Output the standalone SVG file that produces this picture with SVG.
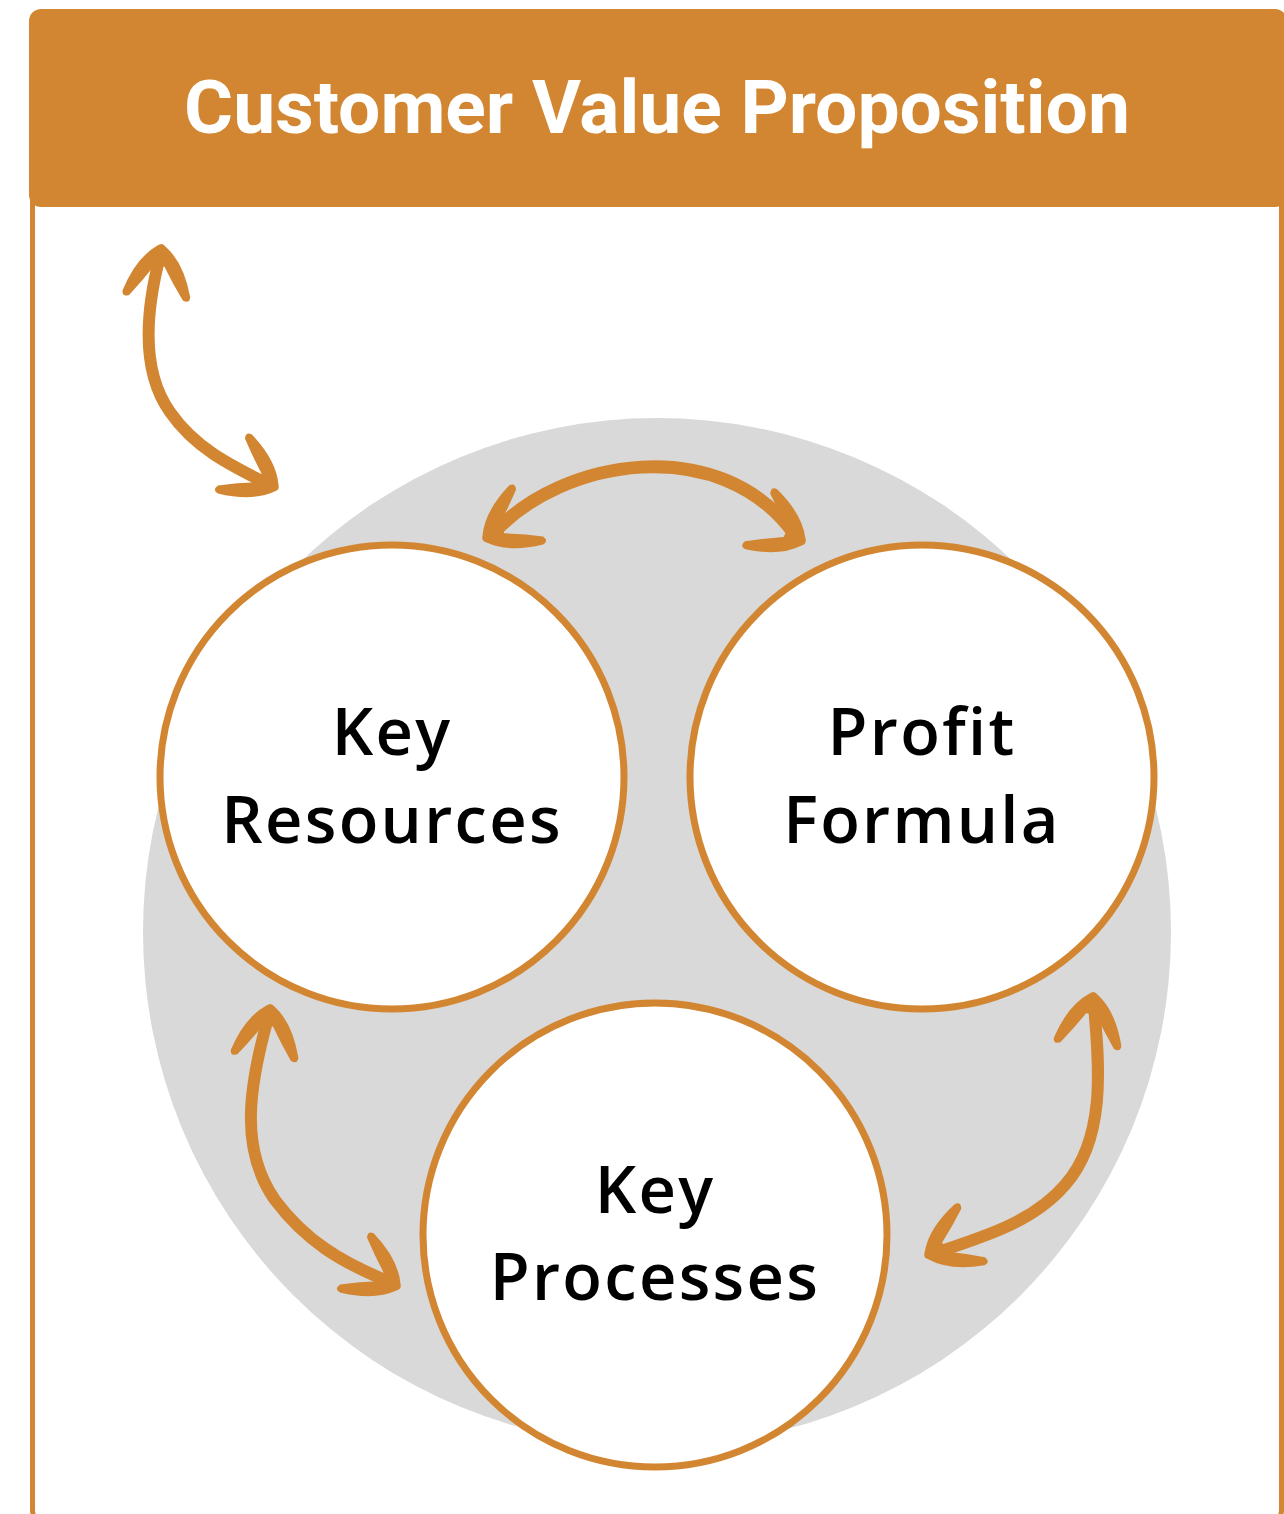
<svg xmlns="http://www.w3.org/2000/svg" width="1284" height="1514" viewBox="0 0 1284 1514">
  <style>
    .frame { fill: #ffffff; stroke: #D38632; stroke-width: 5; }
    .header { fill: #D38632; }
    .title { font-family: Roboto, "Liberation Sans", sans-serif; font-weight: 700; font-size: 75px; fill: #ffffff; text-anchor: middle; }
    .backdrop { fill: #D9D9D9; }
    .node circle { fill: #ffffff; stroke: #D38632; stroke-width: 7; }
    .node text { font-family: "Open Sans", "Noto Sans", sans-serif; font-weight: 600; font-size: 65px; fill: #000000; text-anchor: middle; letter-spacing: 2.3px; }
    .shaft { fill: none; stroke: #D38632; stroke-width: 12; stroke-linecap: round; }
    .head { fill: #D38632; }
  </style>
  <defs>
    <!-- hand-drawn arrowhead, tip at origin, pointing along +x -->
    <path id="head" d="M 4,-4 Q -10,-24 -44,-34 Q -51,-34 -48,-27 Q -32,-15 -16,-5 L -16,5 Q -32,15 -48,27 Q -51,34 -44,34 Q -10,24 4,4 Q 8,0 4,-4 Z"/>
  </defs>

  <!-- outer panel and title bar -->
  <rect class="frame" x="32.5" y="12" width="1249" height="1512" rx="14"/>
  <rect class="header" x="29" y="9" width="1258" height="198" rx="12"/>
  <text class="title" x="657" y="133">Customer Value Proposition</text>

  <!-- grey backdrop disc -->
  <circle class="backdrop" cx="657" cy="932" r="514"/>

  <g id="connectors">
    <!-- title bar to the circles -->
    <path class="shaft" d="M160,256 C146,310 140,370 170,412 C195,448 230,465 268,484"/>
    <use href="#head" class="head" transform="translate(161,250) rotate(-84)"/>
    <use href="#head" class="head" transform="translate(273,486) rotate(30)"/>

    <!-- Key Resources to Profit Formula -->
    <path class="shaft" style="stroke-width:13" d="M495,532 C560,460 720,430 795,535"/>
    <use href="#head" class="head" transform="translate(488,537) rotate(150)"/>
    <use href="#head" class="head" transform="translate(800,540) rotate(28)"/>

    <!-- Key Resources to Key Processes -->
    <path class="shaft" d="M268,1018 C248,1090 240,1150 275,1200 C305,1240 340,1262 390,1282"/>
    <use href="#head" class="head" transform="translate(270,1010) rotate(-83)"/>
    <use href="#head" class="head" transform="translate(395,1285) rotate(30)"/>

    <!-- Profit Formula to Key Processes -->
    <path class="shaft" d="M1094,1006 C1100,1070 1105,1140 1065,1185 C1035,1220 990,1235 935,1253"/>
    <use href="#head" class="head" transform="translate(1093,998) rotate(-83)"/>
    <use href="#head" class="head" transform="translate(930,1254) rotate(154)"/>
  </g>

  <g id="key-resources" class="node">
    <circle cx="392" cy="777" r="232"/>
    <text x="392" y="755">Key</text>
    <text x="392" y="843">Resources</text>
  </g>

  <g id="profit-formula" class="node">
    <circle cx="922" cy="777" r="232"/>
    <text x="922" y="755">Profit</text>
    <text x="922" y="843">Formula</text>
  </g>

  <g id="key-processes" class="node">
    <circle cx="655" cy="1235" r="232"/>
    <text x="655" y="1213">Key</text>
    <text x="655" y="1300">Processes</text>
  </g>
</svg>
